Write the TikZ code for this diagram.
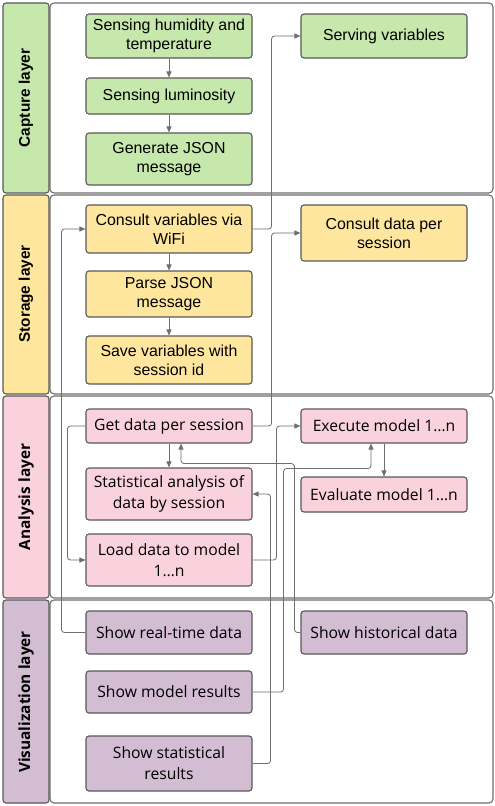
\documentclass[tikz,border=0pt]{standalone}
\usepackage{fontspec}
\setmainfont{Liberation Sans}
\newfontfamily\opensans{Open Sans}
\usetikzlibrary{arrows.meta,calc}

\definecolor{capgreen}{RGB}{199,232,172}
\definecolor{stoyellow}{RGB}{255,230,158}
\definecolor{anapink}{RGB}{250,210,222}
\definecolor{vispurple}{RGB}{211,189,211}
\definecolor{boxline}{RGB}{88,88,88}
\definecolor{connline}{RGB}{110,110,110}

\begin{document}
\begin{tikzpicture}[x=1pt, y=-1pt, >={Triangle[length=6pt,width=5pt]},
    % 通用方块样式
    box/.style={
        draw=boxline,
        line width=1.1pt,
        rounded corners=3pt,
        minimum width=166pt,
        inner sep=0pt,
        align=center,
        font=\fontsize{15.9}{19}\selectfont
    },
    % 下面两层用 Open Sans
    osbox/.style={box, font=\opensans\fontsize{15.7}{21}\selectfont},
    % 连线样式
    conn/.style={->, connline, line width=0.8pt, rounded corners=3pt},
    % 分层的左侧标签条和右侧面板
    strip/.style={draw=boxline, line width=1.1pt, rounded corners=3pt},
    panel/.style={draw=connline, line width=1.1pt, fill=white, rounded corners=4pt},
    lanelabel/.style={rotate=90, font=\bfseries\fontsize{15.4}{18}\selectfont}
]
    \useasboundingbox (0,0) rectangle (495,806);

    % ================== 分层背景 ==================
    \draw[strip, fill=capgreen] (3,3) rectangle (49,193);
    \draw[panel] (50,3) rectangle (493,193);
    \node[lanelabel] (cap_label) at (26,98) {Capture layer};

    \draw[strip, fill=stoyellow] (3,195) rectangle (49,394);
    \draw[panel] (50,195) rectangle (493,394);
    \node[lanelabel] (sto_label) at (26,294) {Storage layer};

    \draw[strip, fill=anapink] (3,396) rectangle (49,598);
    \draw[panel] (50,396) rectangle (493,598);
    \node[lanelabel, font=\opensans\bfseries\fontsize{15.4}{18}\selectfont] (ana_label) at (26,497) {Analysis layer};

    \draw[strip, fill=vispurple] (3,600) rectangle (49,803);
    \draw[panel] (50,600) rectangle (493,803);
    \node[lanelabel, font=\opensans\bfseries\fontsize{15.4}{18}\selectfont] (vis_label) at (26,702) {Visualization layer};

    % ================== Capture layer ==================
    \node[box, fill=capgreen, minimum height=44pt] (cap_hum) at (169,36) {Sensing humidity and\\temperature};
    \node[box, fill=capgreen, minimum height=36pt] (cap_lum) at (169,96) {Sensing luminosity};
    \node[box, fill=capgreen, minimum height=52pt] (cap_json) at (169,159) {Generate JSON\\message};
    \node[box, fill=capgreen, minimum height=44pt] (cap_serve) at (384,36) {Serving variables};

    % ================== Storage layer ==================
    \node[box, fill=stoyellow, minimum height=48pt] (sto_wifi) at (169,229) {Consult variables via\\WiFi};
    \node[box, fill=stoyellow, minimum height=46pt] (sto_parse) at (169,294) {Parse JSON\\message};
    \node[box, fill=stoyellow, minimum height=48pt] (sto_save) at (169,360) {Save variables with\\session id};
    \node[box, fill=stoyellow, minimum height=56pt] (sto_consult) at (384,233) {Consult data per\\session};

    % ================== Analysis layer ==================
    \node[osbox, fill=anapink, minimum height=34pt] (ana_get) at (169,426) {Get data per session};
    \node[osbox, fill=anapink, minimum height=52pt] (ana_stat) at (169,494) {Statistical analysis of\\data by session};
    \node[osbox, fill=anapink, minimum height=52pt] (ana_load) at (169,560) {Load data to model\\1…n};
    \node[osbox, fill=anapink, minimum height=34pt] (ana_exec) at (384,426) {Execute model 1…n};
    \node[osbox, fill=anapink, minimum height=35pt] (ana_eval) at (384,494.5) {Evaluate model 1…n};

    % ================== Visualization layer ==================
    \node[osbox, fill=vispurple, minimum height=43pt] (vis_real) at (169,632.5) {Show real-time data};
    \node[osbox, fill=vispurple, minimum height=42pt] (vis_model) at (169,692) {Show model results};
    \node[osbox, fill=vispurple, minimum height=55pt] (vis_stat) at (169,763.5) {Show statistical\\results};
    \node[osbox, fill=vispurple, minimum height=43pt] (vis_hist) at (384,632.5) {Show historical data};

    % ================== 连线 ==================
    \draw[conn] (cap_hum) -- (cap_lum);
    \draw[conn] (cap_lum) -- (cap_json);
    \draw[conn] (sto_wifi) -- (sto_parse);
    \draw[conn] (sto_parse) -- (sto_save);
    \draw[conn] (ana_get) -- (ana_stat);
    \draw[conn] (ana_exec) -- (ana_eval);

    % 跨层的折线
    \draw[conn] (sto_wifi.east) -- ++(19,0) |- (cap_serve.west);
    \draw[conn] (vis_real.west) -- ++(-24,0) |- (sto_wifi.west);
    \draw[conn] (ana_get.east) -- ++(19,0) |- (sto_consult.west);
    \draw[conn] (ana_get.west) -- ++(-18,0) |- (ana_load.west);
    \draw[conn] (vis_stat.east) -- ++(18,0) |- (ana_stat.east);
    \draw[conn] (ana_load.east) -- ++(24,0) |- (ana_exec.west);
    \draw[conn] (vis_hist.west) -- ++(-6,0) |- ($(ana_get.south)+(12,20)$) -- ($(ana_get.south)+(12,0)$);
    \draw[conn] (vis_model.east) -- ++(31,0) |- ($(ana_exec.south)+(-13,25)$) -- ($(ana_exec.south)+(-13,0)$);

\end{tikzpicture}
\end{document}
